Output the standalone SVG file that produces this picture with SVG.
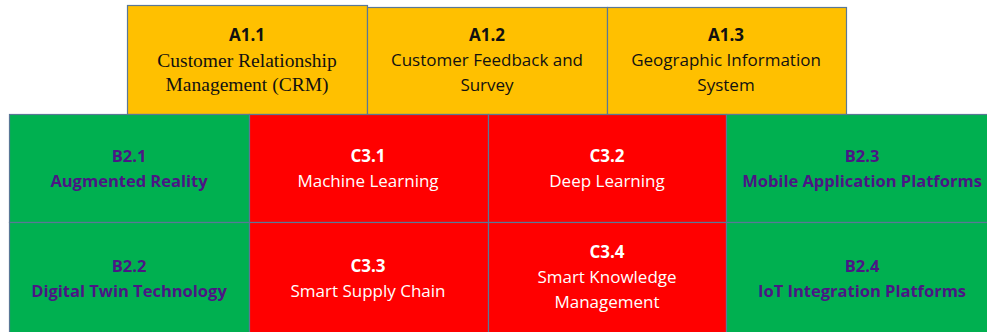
<svg xmlns="http://www.w3.org/2000/svg" width="987" height="332" viewBox="0 0 987 332">
  <style>
    .box { stroke: #5a7896; stroke-width: 1.2; }
    .a { fill: #FFC000; }
    .b { fill: #00B050; }
    .c { fill: #FF0000; }
    text { font-family: "Open Sans", "Liberation Sans", sans-serif; text-anchor: middle; }
    .ta { fill: #111; font-size: 17px; }
    .tb { fill: #4B1684; font-size: 16.5px; font-weight: bold; }
    .tc { fill: #fff; font-size: 17px; }
    .bold { font-weight: bold; }
    .serif { font-family: "Liberation Serif", "Times New Roman", serif; font-size: 19.5px; }
  </style>
  <rect width="987" height="332" fill="#fff"/>

  <!-- top tier -->
  <g id="A1.1">
    <rect class="box a" x="127.5" y="5.5" width="240" height="109"/>
    <text class="ta bold" x="247" y="41">A1.1</text>
    <text class="ta serif" x="247" y="67">Customer Relationship</text>
    <text class="ta serif" x="247" y="91">Management (CRM)</text>
  </g>
  <g id="A1.2">
    <rect class="box a" x="367.5" y="7.5" width="240" height="107"/>
    <text class="ta bold" x="487" y="41">A1.2</text>
    <text class="ta" x="487" y="66">Customer Feedback and</text>
    <text class="ta" x="487" y="91">Survey</text>
  </g>
  <g id="A1.3">
    <rect class="box a" x="607.5" y="7.5" width="239" height="107"/>
    <text class="ta bold" x="726" y="41">A1.3</text>
    <text class="ta" x="726" y="66">Geographic Information</text>
    <text class="ta" x="726" y="91">System</text>
  </g>

  <!-- row 1 -->
  <g id="B2.1">
    <rect class="box b" x="9.5" y="114.5" width="240" height="108"/>
    <text class="tb" x="129" y="162">B2.1</text>
    <text class="tb" x="129" y="187">Augmented Reality</text>
  </g>
  <g id="C3.1">
    <rect class="box c" x="249.5" y="114.5" width="239" height="108"/>
    <text class="tc bold" x="368" y="162">C3.1</text>
    <text class="tc" x="368" y="187">Machine Learning</text>
  </g>
  <g id="C3.2">
    <rect class="box c" x="488.5" y="114.5" width="238" height="108"/>
    <text class="tc bold" x="607" y="162">C3.2</text>
    <text class="tc" x="607" y="187">Deep Learning</text>
  </g>
  <g id="B2.3">
    <rect class="box b" x="726.5" y="114.5" width="262" height="108"/>
    <text class="tb" x="862" y="162">B2.3</text>
    <text class="tb" x="862" y="187">Mobile Application Platforms</text>
  </g>

  <!-- row 2 -->
  <g id="B2.2">
    <rect class="box b" x="9.5" y="222.5" width="240" height="112"/>
    <text class="tb" x="129" y="272">B2.2</text>
    <text class="tb" x="129" y="297">Digital Twin Technology</text>
  </g>
  <g id="C3.3">
    <rect class="box c" x="249.5" y="222.5" width="239" height="112"/>
    <text class="tc bold" x="368" y="272">C3.3</text>
    <text class="tc" x="368" y="297">Smart Supply Chain</text>
  </g>
  <g id="C3.4">
    <rect class="box c" x="488.5" y="222.5" width="238" height="112"/>
    <text class="tc bold" x="607" y="258">C3.4</text>
    <text class="tc" x="607" y="283">Smart Knowledge</text>
    <text class="tc" x="607" y="308">Management</text>
  </g>
  <g id="B2.4">
    <rect class="box b" x="726.5" y="222.5" width="262" height="112"/>
    <text class="tb" x="862" y="272">B2.4</text>
    <text class="tb" x="862" y="297">IoT Integration Platforms</text>
  </g>

  <g id="connectors"/>
</svg>
